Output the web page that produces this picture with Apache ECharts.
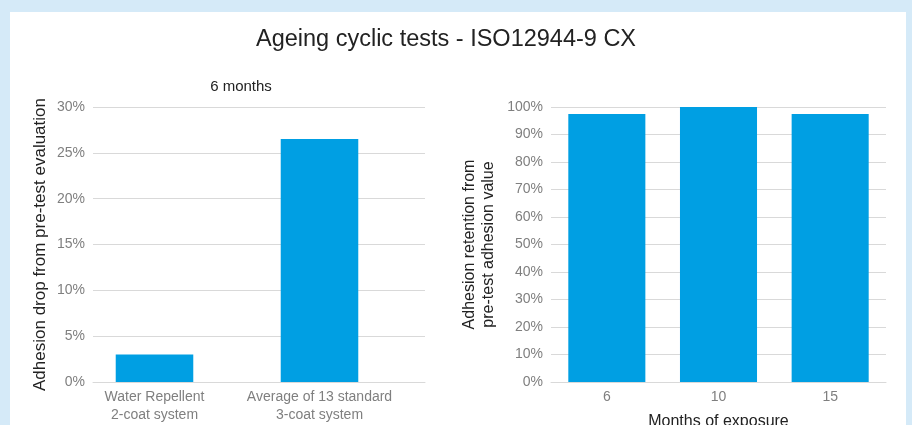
<!DOCTYPE html>
<html>
<head>
<meta charset="utf-8">
<script src="https://cdn.jsdelivr.net/npm/echarts@6/dist/echarts.min.js"></script>
<style>
  html, body { margin: 0; padding: 0; background: #d5eaf8; }
  #chart { width: 912px; height: 425px; }
</style>
</head>
<body>
<div id="chart"></div>
<script>
// left chart: adhesion drop after 6 months
const dropCategories = ['Water Repellent\n2-coat system', 'Average of 13 standard\n3-coat system'];
const dropValues = [3, 26.5];

// right chart: adhesion retention by months of exposure
const monthCategories = ['6', '10', '15'];
const retentionValues = [97.5, 100, 97.5];

const barColor = '#009fe3';
const tickColor = '#7f7f7f';
const gridColor = '#d9d9d9';
const font = 'Liberation Sans, Arial, sans-serif';

let chart = echarts.init(document.getElementById('chart'));

const valueAxisBase = {
    type: 'value',
    axisLine: { show: false },
    axisTick: { show: false },
    splitLine: { lineStyle: { color: gridColor, width: 1 } },
    axisLabel: { color: tickColor, fontSize: 14, fontFamily: font, margin: 8, formatter: '{value}%' },
    nameLocation: 'middle',
    nameTextStyle: { color: '#222', fontSize: 17, fontFamily: font }
};

const catAxisBase = {
    type: 'category',
    axisLine: { lineStyle: { color: gridColor } },
    axisTick: { show: false },
    axisLabel: { color: tickColor, fontSize: 14, fontFamily: font, lineHeight: 18, margin: 6, interval: 0 }
};

chart.setOption({
    backgroundColor: '#d5eaf8',
    graphic: [
        {
            type: 'rect',
            z: -10,
            silent: true,
            shape: { x: 10, y: 12, width: 896, height: 420 },
            style: { fill: '#ffffff' }
        }
    ],
    title: [
        {
            text: 'Ageing cyclic tests - ISO12944-9 CX',
            left: 441,
            textAlign: 'center',
            top: 23,
            textStyle: { color: '#222', fontSize: 23.5, fontWeight: 'normal', fontFamily: font }
        },
        {
            text: '6 months',
            left: 236,
            textAlign: 'center',
            top: 74,
            textStyle: { color: '#222', fontSize: 15, fontWeight: 'normal', fontFamily: font }
        }
    ],
    grid: [
        // left: gridlines and value labels
        { left: 93, right: 487, top: 107, bottom: 43, outerBoundsMode: 'none' },
        // left: bars and category labels (sits a bit to the left, like the source)
        { left: 72, right: 510, top: 107, bottom: 43, outerBoundsMode: 'none' },
        // right chart
        { left: 551, right: 26, top: 107, bottom: 43, outerBoundsMode: 'none' }
    ],
    xAxis: [
        Object.assign({}, catAxisBase, { gridIndex: 0, data: dropCategories, axisLabel: { show: false } }),
        Object.assign({}, catAxisBase, { gridIndex: 1, data: dropCategories, axisLine: { show: false } }),
        Object.assign({}, catAxisBase, {
            gridIndex: 2,
            data: monthCategories,
            name: 'Months of exposure',
            nameLocation: 'middle',
            nameGap: 32,
            nameTextStyle: { color: '#222', fontSize: 16, fontFamily: font }
        })
    ],
    yAxis: [
        Object.assign({}, valueAxisBase, {
            gridIndex: 0, min: 0, max: 30, interval: 5,
            name: 'Adhesion drop from pre-test evaluation',
            nameGap: 44
        }),
        { type: 'value', gridIndex: 1, min: 0, max: 30, interval: 5, show: false },
        Object.assign({}, valueAxisBase, {
            gridIndex: 2, min: 0, max: 100, interval: 10,
            name: 'Adhesion retention from\npre-test adhesion value',
            nameGap: 53,
            nameTextStyle: { color: '#222', fontSize: 16, fontFamily: font, lineHeight: 19 }
        })
    ],
    series: [
        {
            type: 'bar',
            xAxisIndex: 1,
            yAxisIndex: 1,
            data: dropValues,
            barWidth: '47%',
            itemStyle: { color: barColor }
        },
        {
            type: 'bar',
            xAxisIndex: 2,
            yAxisIndex: 2,
            data: retentionValues,
            barWidth: '69%',
            itemStyle: { color: barColor }
        }
    ]
});
</script>
</body>
</html>
